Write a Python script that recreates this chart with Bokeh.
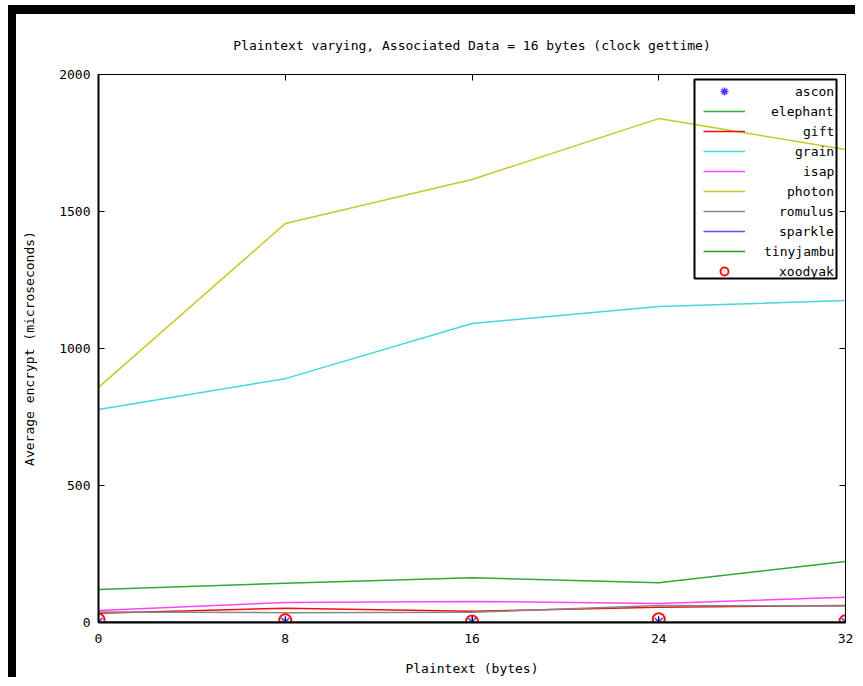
from bokeh.plotting import figure
from bokeh.models import Range1d, FixedTicker, LinearAxis, Legend, LegendItem, BoxAnnotation
from bokeh.embed import file_html
from bokeh.resources import INLINE

# ---- data ----
x_bytes = [0, 8, 16, 24, 32]
ascon = [2, 2, 2, 2, 2]
elephant = [120, 143, 163, 145, 223]
gift = [34, 52, 41, 56, 62]
grain = [777, 890, 1091, 1153, 1175]
isap = [44, 73, 77, 69, 92]
photon = [858, 1456, 1617, 1839, 1726]
romulus = [38, 36, 37, 62, 60]
sparkle = [3, 1, 1, 1, 1]
tinyjambu = [1, 1, 1, 1, 1]
xoodyak = [10, 8, 4, 12, 5]

x_ticks = [0, 8, 16, 24, 32]
y_ticks = [0, 500, 1000, 1500, 2000]

FONT = "DejaVu Sans Mono"
CHAR_W = 0.602 * 13  # monospace advance at 13px

p = figure(width=847, height=672, output_backend="svg", toolbar_location=None,
           x_range=Range1d(0, 32), y_range=Range1d(0, 2000),
           min_border_left=82, min_border_right=18, min_border_top=60, min_border_bottom=64,
           background_fill_color="white", border_fill_color="white",
           styles={"margin-left": "8px", "margin-top": "5px",
                   "border-left": "8px solid black", "border-top": "9px solid black"})

p.title.text = "Plaintext varying, Associated Data = 16 bytes (clock gettime)"
p.title.align = "center"
p.title.text_font = FONT
p.title.text_font_size = "13px"
p.title.text_font_style = "normal"
p.title.text_color = "black"
p.title.standoff = 43

p.grid.visible = False
p.outline_line_color = "black"
p.outline_line_width = 1

for ax, ticks in ((p.xaxis[0], x_ticks), (p.yaxis[0], y_ticks)):
    ax.ticker = FixedTicker(ticks=ticks)
    ax.major_tick_in = 6
    ax.major_tick_out = 0
    ax.minor_tick_line_color = None
    ax.axis_line_color = "black"
    ax.axis_line_width = 2
    ax.major_tick_line_color = "black"
    ax.major_label_text_font = FONT
    ax.major_label_text_font_size = "13px"
    ax.major_label_text_color = "black"
    ax.axis_label_text_font = FONT
    ax.axis_label_text_font_size = "13px"
    ax.axis_label_text_font_style = "normal"
    ax.axis_label_text_color = "black"
    ax.major_label_standoff = 8

p.xaxis[0].major_label_standoff = 11
p.xaxis[0].axis_label = "Plaintext (bytes)"
p.xaxis[0].axis_label_standoff = 15
p.yaxis[0].axis_label = "Average encrypt (microseconds)"
p.yaxis[0].axis_label_standoff = 19

# mirrored ticks on top and right (no labels)
mirror_kw = dict(major_label_text_font_size="1px", major_label_text_color=None,
                 major_tick_in=6, major_tick_out=0, minor_tick_line_color=None,
                 axis_line_color="black", axis_line_width=1, major_label_standoff=0)
top_axis = LinearAxis(ticker=FixedTicker(ticks=x_ticks), **mirror_kw)
right_axis = LinearAxis(ticker=FixedTicker(ticks=y_ticks), **mirror_kw)
p.add_layout(top_axis, "above")
p.add_layout(right_axis, "right")

LW = 1.5
r_ascon = p.scatter(x_bytes, ascon, marker="asterisk", size=11, line_color="#4433ff", line_width=1.5)
r_elephant = p.line(x_bytes, elephant, line_color="#33a833", line_width=LW)
r_gift = p.line(x_bytes, gift, line_color="#ee1111", line_width=LW)
r_grain = p.line(x_bytes, grain, line_color="#44d8d8", line_width=LW)
r_isap = p.line(x_bytes, isap, line_color="#ff44ff", line_width=LW)
r_photon = p.line(x_bytes, photon, line_color="#c8c828", line_width=LW)
r_romulus = p.line(x_bytes, romulus, line_color="#888888", line_width=LW)
r_sparkle = p.line(x_bytes, sparkle, line_color="#7744ff", line_width=LW)
r_tinyjambu = p.line(x_bytes, tinyjambu, line_color="#2a9a2a", line_width=LW)
r_xoodyak = p.scatter(x_bytes, xoodyak, marker="circle", size=12, fill_color=None,
                      line_color="#ff1111", line_width=2)

names = ["ascon", "elephant", "gift", "grain", "isap", "photon", "romulus",
         "sparkle", "tinyjambu", "xoodyak"]
rends = [r_ascon, r_elephant, r_gift, r_grain, r_isap, r_photon, r_romulus,
         r_sparkle, r_tinyjambu, r_xoodyak]

# one single-entry legend per series so that labels end flush right (gnuplot style)
LEG_X = 605        # frame-relative x of the sample glyphs
LEG_BOTTOM = 341   # frame-relative bottom of the last entry
ROW_H = 20
TEXT_END = 89      # distance from end of sample glyph to right end of label
n_items = len(names)
for i, (n, r) in enumerate(zip(names, rends)):
    standoff = int(round(TEXT_END - len(n) * CHAR_W))
    lg = Legend(items=[LegendItem(label=n, renderers=[r])],
                location=(LEG_X, LEG_BOTTOM + (n_items - 1 - i) * ROW_H),
                padding=0, spacing=0, margin=0,
                glyph_width=42, glyph_height=ROW_H, label_height=ROW_H,
                label_standoff=standoff, label_text_baseline="middle",
                label_text_font=FONT, label_text_font_size="13px", label_text_color="black",
                border_line_alpha=0, background_fill_alpha=0)
    p.add_layout(lg)

box = BoxAnnotation(left=596, right=738, top=543, bottom=344,
                    left_units="screen", right_units="screen",
                    top_units="screen", bottom_units="screen",
                    fill_color=None, fill_alpha=0, line_color="black", line_alpha=1.0,
                    line_width=2, editable=False)
p.add_layout(box)

open("out.html", "w").write(file_html(p, INLINE))
